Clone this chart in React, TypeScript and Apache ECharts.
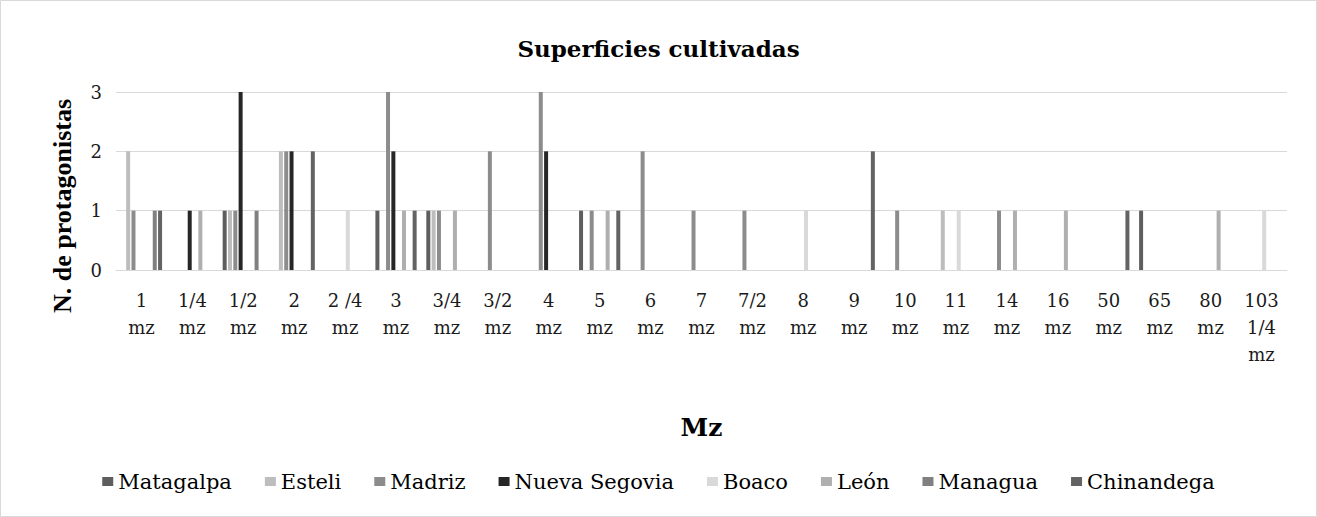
import React, { useEffect, useRef } from "react";
import * as echarts from "echarts";

const categories = ["1\nmz", "1/4\nmz", "1/2\nmz", "2\nmz", "2 /4\nmz", "3\nmz", "3/4\nmz", "3/2\nmz", "4\nmz", "5\nmz", "6\nmz", "7\nmz", "7/2\nmz", "8\nmz", "9\nmz", "10\nmz", "11\nmz", "14\nmz", "16\nmz", "50\nmz", "65\nmz", "80\nmz", "103\n1/4\nmz"];

const matagalpa = [0, 0, 1, 0, 0, 1, 1, 0, 0, 1, 0, 0, 0, 0, 0, 0, 0, 0, 0, 0, 1, 0, 0];
const esteli = [2, 0, 1, 2, 0, 0, 1, 0, 0, 0, 0, 0, 0, 0, 0, 0, 1, 0, 0, 0, 0, 0, 0];
const madriz = [1, 0, 1, 2, 0, 3, 1, 2, 3, 1, 2, 1, 1, 0, 0, 1, 0, 1, 0, 0, 0, 0, 0];
const nuevaSegovia = [0, 1, 3, 2, 0, 2, 0, 0, 2, 0, 0, 0, 0, 0, 0, 0, 0, 0, 0, 0, 0, 0, 0];
const boaco = [0, 0, 0, 0, 1, 0, 0, 0, 0, 0, 0, 0, 0, 1, 0, 0, 1, 0, 0, 0, 0, 0, 1];
const leon = [0, 1, 0, 0, 0, 1, 1, 0, 0, 1, 0, 0, 0, 0, 0, 0, 0, 1, 1, 0, 0, 1, 0];
const managua = [1, 0, 1, 0, 0, 0, 0, 0, 0, 0, 0, 0, 0, 0, 0, 0, 0, 0, 0, 0, 0, 0, 0];
const chinandega = [1, 0, 0, 2, 0, 1, 0, 0, 0, 1, 0, 0, 0, 0, 2, 0, 0, 0, 0, 1, 0, 0, 0];

const seriesNames = ["Matagalpa", "Esteli", "Madriz", "Nueva Segovia", "Boaco", "León", "Managua", "Chinandega"];
const seriesData = [matagalpa, esteli, madriz, nuevaSegovia, boaco, leon, managua, chinandega];
const seriesColors = ["#5e5e5e", "#bdbdbd", "#8c8c8c", "#262626", "#d9d9d9", "#afafaf", "#808080", "#636363"];

const FONT = "'DejaVu Serif', 'Liberation Serif', serif";
const FONT_T = "'Liberation Serif', 'Times New Roman', serif";

export default function App() {
  const ref = useRef<HTMLDivElement>(null);
  useEffect(() => {
    if (!ref.current) return;
    const chart = echarts.init(ref.current, null, { renderer: "svg" });
    chart.setOption({
      animation: false,
      backgroundColor: "#ffffff",
      textStyle: { fontFamily: FONT },
      title: {
        text: "Superficies cultivadas",
        left: "center",
        top: 32,
        textStyle: { fontFamily: FONT, fontSize: 23, fontWeight: "bold", color: "#000" },
      },
      graphic: [
        {
          type: "rect",
          shape: { x: 0.5, y: 0.5, width: 1316, height: 516 },
          style: { fill: "none", stroke: "#d9d9d9", lineWidth: 1 },
          silent: true,
        },
      ],
      legend: {
        data: seriesNames,
        top: 466,
        left: "center",
        itemWidth: 11,
        itemHeight: 9,
        itemGap: 33,
        icon: "rect",
        textStyle: { fontFamily: FONT, fontSize: 21, color: "#000" },
      },
      grid: { left: 116, right: 30, top: 92, bottom: 247, containLabel: false },
      xAxis: {
        type: "category",
        data: categories,
        name: "Mz",
        nameLocation: "middle",
        nameGap: 145,
        nameTextStyle: { fontFamily: FONT, fontSize: 25, fontWeight: "bold", color: "#000" },
        axisLine: { lineStyle: { color: "#d9d9d9", width: 1 } },
        axisTick: { show: false },
        axisLabel: { interval: 0, fontFamily: FONT, fontSize: 18, color: "#1a1a1a", lineHeight: 27, margin: 17 },
      },
      yAxis: {
        type: "value",
        min: 0,
        max: 3,
        interval: 1,
        name: "N. de protagonistas",
        nameLocation: "middle",
        nameGap: 41,
        nameTextStyle: { fontFamily: FONT_T, fontSize: 26, fontWeight: "bold", color: "#000", padding: [0, 50, 0, 0] },
        axisLine: { show: false },
        axisTick: { show: false },
        splitLine: { lineStyle: { color: "#d9d9d9", width: 1 } },
        axisLabel: { fontFamily: FONT, fontSize: 18, color: "#1a1a1a", margin: 14 },
      },
      series: seriesNames.map((name, i) => ({
        name,
        type: "bar",
        data: seriesData[i],
        barWidth: 4,
        barGap: "33%",
        itemStyle: { color: seriesColors[i] },
      })),
    });
    return () => chart.dispose();
  }, []);
  return (
    <div
      ref={ref}
      style={{ position: "fixed", left: 0, top: 0, width: 1317, height: 517 }}
    />
  );
}
